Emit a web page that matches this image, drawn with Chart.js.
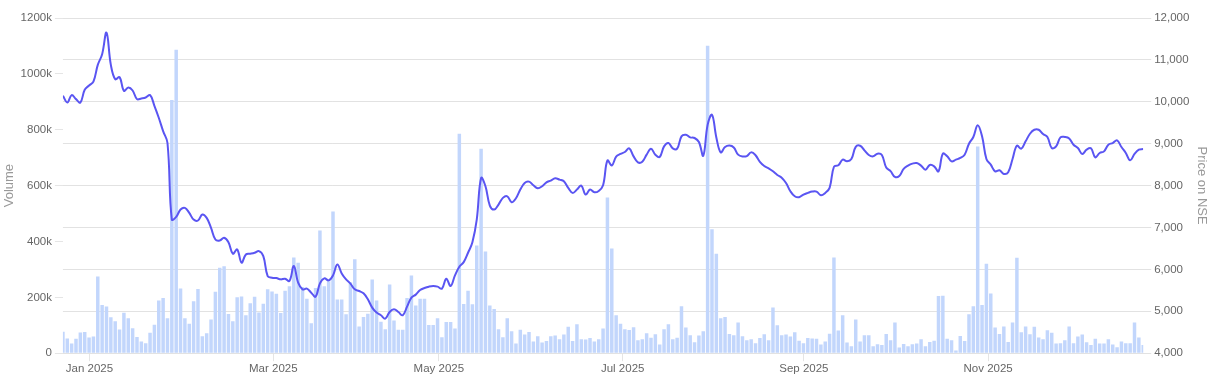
<!DOCTYPE html>
<html><head><meta charset="utf-8">
<script src="https://cdn.jsdelivr.net/npm/chart.js@4.4.1/dist/chart.umd.min.js"></script>
<style>html,body{margin:0;padding:0;background:#fff;}</style>
</head><body>
<canvas id="c" width="1210" height="381"></canvas>
<script>
// Daily traded volume (thousands of shares), one value per trading day
const volumeK = [
  77, 53, 35, 52, 74, 76, 56, 60, 275, 173,
  167, 129, 114, 85, 145, 125, 89, 58, 42, 36,
  73, 102, 189, 198, 125, 906, 1086, 232, 125, 105,
  186, 230, 61, 71, 121, 220, 306, 311, 140, 114,
  200, 203, 136, 179, 202, 146, 177, 229, 221, 213,
  144, 224, 240, 343, 324, 237, 195, 107, 233, 439,
  240, 258, 507, 192, 192, 139, 254, 336, 96, 130,
  141, 264, 189, 113, 86, 246, 117, 84, 84, 198,
  278, 171, 195, 195, 101, 101, 125, 57, 112, 112,
  88, 786, 176, 224, 175, 386, 732, 364, 171, 158,
  86, 57, 125, 79, 35, 84, 67, 76, 42, 61,
  38, 44, 61, 63, 50, 67, 95, 44, 104, 50,
  49, 54, 42, 50, 88, 557, 375, 136, 105, 86,
  83, 93, 46, 50, 71, 55, 68, 31, 86, 104,
  50, 55, 168, 92, 64, 39, 63, 79, 1101, 444,
  356, 125, 130, 69, 64, 110, 61, 46, 50, 36,
  54, 68, 46, 164, 100, 64, 67, 60, 75, 45,
  36, 54, 53, 52, 31, 42, 70, 343, 81, 136,
  38, 25, 121, 42, 64, 64, 25, 32, 29, 69,
  46, 110, 20, 33, 25, 32, 35, 50, 25, 40,
  45, 205, 206, 52, 46, 10, 62, 44, 139, 168,
  740, 173, 320, 214, 92, 69, 96, 40, 110, 342,
  75, 96, 68, 95, 56, 50, 82, 73, 35, 36,
  46, 96, 36, 60, 67, 39, 29, 52, 35, 35,
  50, 31, 21, 42, 36, 36, 110, 56, 29
];

// Closing price on NSE, one value per trading day
const price = [
  10143, 9984, 10160, 10064, 9984, 10286, 10389, 10484, 10881, 11136,
  11651, 10881, 10540, 10588, 10262, 10341, 10270, 10064, 10079, 10103,
  10160, 9905, 9620, 9300, 9017, 7190, 7254, 7428, 7468, 7349,
  7190, 7167, 7310, 7230, 6992, 6714, 6690, 6754, 6650, 6374,
  6476, 6160, 6357, 6374, 6397, 6436, 6317, 5841, 5802, 5793,
  5762, 5778, 5722, 6079, 5683, 5524, 5540, 5445, 5350, 5667,
  5786, 5738, 5857, 6119, 5905, 5762, 5659, 5524, 5484, 5429,
  5286, 5088, 4969, 4905, 4826, 4984, 5048, 4984, 4905, 5112,
  5326, 5398, 5507, 5555, 5588, 5603, 5588, 5540, 5778, 5603,
  5857, 6064, 6174, 6397, 6650, 7190, 8183, 7984, 7524, 7428,
  7548, 7707, 7745, 7603, 7698, 7905, 8064, 8095, 8008, 7937,
  7984, 8079, 8119, 8174, 8143, 8103, 7945, 7826, 7905, 8000,
  7786, 7905, 7841, 7873, 8010, 8600, 8480, 8690, 8755, 8802,
  8889, 8698, 8555, 8571, 8738, 8881, 8738, 8683, 8936, 9016,
  8889, 8881, 9175, 9214, 9151, 9136, 9040, 8714, 9450, 9690,
  9150, 8793, 8920, 8955, 8910, 8738, 8695, 8705, 8793, 8725,
  8567, 8468, 8413, 8341, 8254, 8190, 8064, 7865, 7745, 7722,
  7786, 7826, 7857, 7857, 7770, 7826, 7945, 8450, 8484, 8619,
  8579, 8635, 8925, 8952, 8841, 8730, 8698, 8762, 8730, 8430,
  8345, 8207, 8230, 8400, 8476, 8524, 8540, 8476, 8381, 8492,
  8460, 8341, 8762, 8698, 8579, 8619, 8660, 8738, 9000, 9160,
  9440, 9175, 8635, 8500, 8341, 8365, 8278, 8318, 8635, 8952,
  8881, 9056, 9238, 9333, 9333, 9231, 9160, 8897, 8936, 9151,
  9160, 9127, 8976, 8897, 8755, 8857, 8889, 8675, 8778, 8817,
  8976, 9016, 9079, 8921, 8778, 8603, 8755, 8857, 8873
];

// Month tick labels and where each month starts on the trading-day index
const tickLabels = ['Jan 2025', 'Mar 2025', 'May 2025', 'Jul 2025', 'Sep 2025', 'Nov 2025'];
const tickIndex = [6.1, 48.3, 86.3, 128.5, 170.1, 212.4];

const volumeAxis = { min: 0, max: 1200, step: 200 };
const priceAxis = { min: 4000, max: 12000, step: 1000 };

Chart.defaults.font.family = "'Liberation Sans', Arial, Helvetica, sans-serif";

const n = price.length;
const idx = price.map((_, i) => i);

new Chart(document.getElementById('c'), {
  type: 'bar',
  data: {
    datasets: [
      {
        type: 'line',
        label: 'Price on NSE',
        data: idx.map(i => ({ x: i, y: price[i] })),
        yAxisID: 'y1',
        borderColor: '#5a55f2',
        borderWidth: 2,
        pointRadius: 0,
        tension: 0.4,
        fill: false,
        order: 0
      },
      {
        type: 'bar',
        label: 'Volume',
        data: idx.map(i => ({ x: i, y: volumeK[i] })),
        yAxisID: 'y',
        backgroundColor: '#c2d6fc',
        categoryPercentage: 1,
        barPercentage: 0.8,
        clip: 0,
        order: 1
      }
    ]
  },
  options: {
    responsive: false,
    animation: false,
    layout: { padding: { top: 18, right: 0, bottom: 4, left: 0 } },
    plugins: { legend: { display: false }, tooltip: { enabled: false } },
    scales: {
      x: {
        type: 'linear',
        min: 0,
        max: n - 1,
        offset: false,
        grid: { offset: false, drawOnChartArea: false, drawTicks: true, tickLength: 8 },
        border: { display: false },
        ticks: {
          autoSkip: false, maxRotation: 0, color: '#666', font: { size: 11.5 }, padding: 1,
          callback: (v, i) => tickLabels[i]
        },
        afterBuildTicks: s => { s.ticks = tickIndex.map(v => ({ value: v })); }
      },
      y: {
        position: 'left',
        min: volumeAxis.min,
        max: volumeAxis.max,
        grid: { drawOnChartArea: false, tickLength: 8 },
        border: { display: false },
        ticks: {
          stepSize: volumeAxis.step, color: '#666', font: { size: 11.5 },
          callback: v => (v === 0 ? '0' : v + 'k')
        },
        title: { display: true, text: 'Volume', color: '#999', font: { size: 13 }, padding: { top: 2, bottom: 0 } }
      },
      y1: {
        position: 'right',
        min: priceAxis.min,
        max: priceAxis.max,
        grid: { drawOnChartArea: true, color: '#e2e2e2', tickLength: 8 },
        border: { display: false },
        ticks: { stepSize: priceAxis.step, color: '#666', font: { size: 11.5 } },
        title: { display: true, text: 'Price on NSE', color: '#999', font: { size: 13 }, padding: { top: 1, bottom: 1 } }
      }
    }
  }
});
</script>
</body></html>
